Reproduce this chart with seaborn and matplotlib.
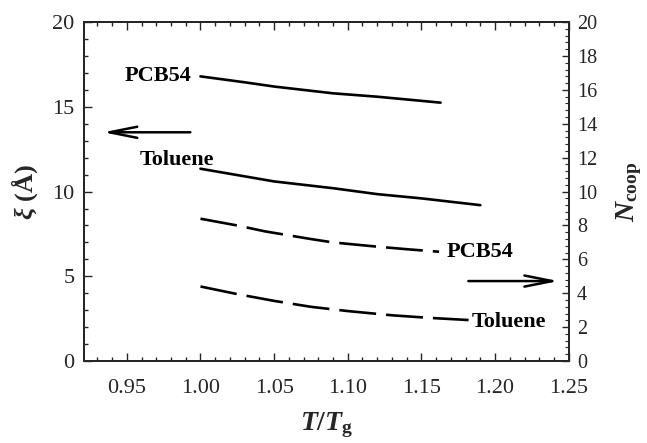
import matplotlib
matplotlib.use("Agg")
import matplotlib.pyplot as plt
import matplotlib.ticker as mticker
import seaborn as sns
import pandas as pd

# Correlation length xi (left axis) versus reduced temperature
t_pcb_xi = [1.00, 1.03, 1.05, 1.09, 1.12, 1.163]
xi_pcb = [16.8, 16.45, 16.2, 15.8, 15.6, 15.25]
t_tol_xi = [1.00, 1.03, 1.05, 1.09, 1.12, 1.15, 1.19]
xi_tol = [11.35, 10.9, 10.6, 10.2, 9.85, 9.6, 9.2]

# Number of cooperatively rearranging molecules (right axis)
t_pcb_n = [1.00, 1.025, 1.044, 1.075, 1.09, 1.12, 1.14, 1.162]
n_pcb = [8.4, 8.0, 7.65, 7.2, 7.0, 6.75, 6.6, 6.45]
t_tol_n = [1.00, 1.025, 1.05, 1.075, 1.10, 1.13, 1.155, 1.182]
n_tol = [4.4, 3.95, 3.55, 3.2, 2.95, 2.7, 2.55, 2.42]

x_ticks = [0.95, 1.00, 1.05, 1.10, 1.15, 1.20, 1.25]
y_left_ticks = [0, 5, 10, 15, 20]
y_right_ticks = [0, 2, 4, 6, 8, 10, 12, 14, 16, 18, 20]

sns.set_style("ticks")
serif = ["Liberation Serif", "DejaVu Serif"]
plt.rcParams["font.family"] = serif
plt.rcParams["mathtext.fontset"] = "custom"
plt.rcParams["mathtext.it"] = "Liberation Serif:bold:italic"
plt.rcParams["mathtext.rm"] = "Liberation Serif:bold"
plt.rcParams["mathtext.bf"] = "Liberation Serif:bold"

fig = plt.figure(figsize=(6.47, 4.43), dpi=100)
ax = fig.add_axes([0.130, 0.185, 0.749, 0.765])
ax2 = ax.twinx()

lw = 1.9
solid = dict(color="black", linewidth=lw)
dashed = dict(color="black", linewidth=lw, linestyle=(0, (14, 3.8)))

sns.lineplot(data=pd.DataFrame({"t": t_pcb_xi, "v": xi_pcb}), x="t", y="v",
             ax=ax, sort=False, **solid)
sns.lineplot(data=pd.DataFrame({"t": t_tol_xi, "v": xi_tol}), x="t", y="v",
             ax=ax, sort=False, **solid)
sns.lineplot(data=pd.DataFrame({"t": t_pcb_n, "v": n_pcb}), x="t", y="v",
             ax=ax2, sort=False, **dashed)
sns.lineplot(data=pd.DataFrame({"t": t_tol_n, "v": n_tol}), x="t", y="v",
             ax=ax2, sort=False, **dashed)

ax.set_xlim(0.921, 1.25)
ax.set_ylim(0, 20)
ax2.set_ylim(0, 20)

ax.set_xticks(x_ticks)
ax.xaxis.set_major_formatter(mticker.FormatStrFormatter("%.2f"))
ax.xaxis.set_minor_locator(mticker.MultipleLocator(0.01))
ax.set_yticks(y_left_ticks)
ax.yaxis.set_major_formatter(mticker.FormatStrFormatter("%d"))
ax.yaxis.set_minor_locator(mticker.MultipleLocator(1))
ax2.set_yticks(y_right_ticks)
ax2.yaxis.set_major_formatter(mticker.FormatStrFormatter("%d"))
ax2.yaxis.set_minor_locator(mticker.MultipleLocator(0.4))

ax.tick_params(axis="x", which="both", direction="in", top=True, labelsize=16, pad=13)
ax.tick_params(axis="y", which="both", direction="in", labelsize=16, pad=7)
ax.tick_params(which="major", length=6, width=1.0)
ax.tick_params(which="minor", length=3, width=1.0)
ax2.tick_params(axis="y", which="both", direction="in", labelsize=14.5, pad=6)
ax2.tick_params(which="major", length=5, width=1.0)
ax2.tick_params(which="minor", length=3, width=0.8)

for a in (ax, ax2):
    for s in a.spines.values():
        s.set_linewidth(1.4)
        s.set_visible(True)

ax.set_xlabel(r"$T/T_{\mathrm{g}}$", fontsize=20, labelpad=9)
ax.set_ylabel(r"$\xi$ (Å)", fontsize=19, fontweight="bold", labelpad=9)
ax2.set_ylabel(r"$N_{\mathrm{coop}}$", fontsize=20, rotation=90, labelpad=12)

lab = dict(fontsize=16, fontweight="bold", color="black", va="center")
ax.text(0.994, 16.8, "PCB54", ha="right", **lab)
ax.text(0.984, 11.85, "Toluene", ha="center", **lab)
ax2.text(1.167, 6.45, "PCB54", ha="left", **lab)
ax2.text(1.184, 2.3, "Toluene", ha="left", **lab)

arrow = dict(arrowstyle="->,head_length=2.0,head_width=0.4", color="black", lw=1.8)
ax.annotate("", xy=(0.932, 13.5), xytext=(0.995, 13.5), arrowprops=arrow)
ax2.annotate("", xy=(1.245, 4.72), xytext=(1.18, 4.72), arrowprops=arrow)

fig.savefig("out.png", dpi=100)
